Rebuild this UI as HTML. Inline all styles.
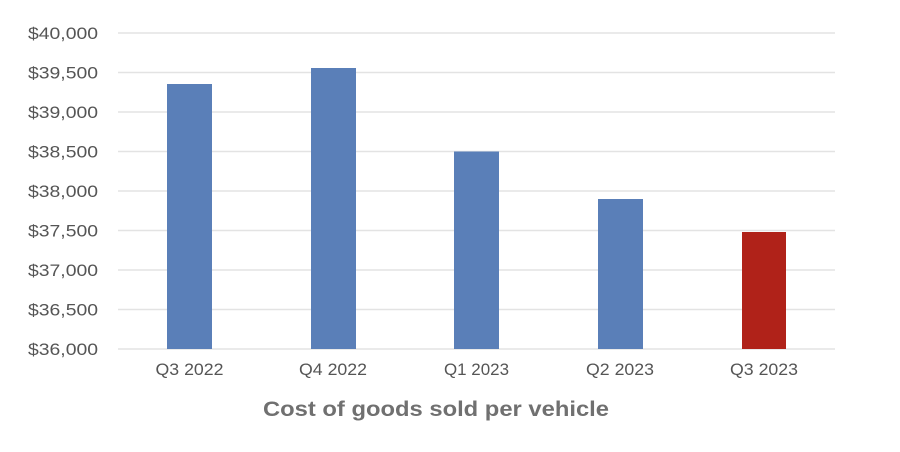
<!DOCTYPE html>
<html><head><meta charset="utf-8"><style>
html,body{margin:0;padding:0;background:#fff;}
svg{display:block;}
text{font-family:"Liberation Sans","DejaVu Sans",sans-serif;}
</style></head><body>
<svg width="900" height="452" viewBox="0 0 900 452" xmlns="http://www.w3.org/2000/svg">
<rect width="900" height="452" fill="#fff"/>
<g stroke="#e3e3e3" stroke-width="1.5">
<line x1="118" x2="835" y1="33" y2="33"/>
<line x1="118" x2="835" y1="72.5" y2="72.5"/>
<line x1="118" x2="835" y1="112" y2="112"/>
<line x1="118" x2="835" y1="151.5" y2="151.5"/>
<line x1="118" x2="835" y1="191" y2="191"/>
<line x1="118" x2="835" y1="230.5" y2="230.5"/>
<line x1="118" x2="835" y1="270" y2="270"/>
<line x1="118" x2="835" y1="309.5" y2="309.5"/>
<line x1="118" x2="835" y1="349" y2="349"/>
</g>
<g fill="#5a7fb8">
<rect x="167" y="84" width="45" height="265"/>
<rect x="311" y="68" width="45" height="281"/>
<rect x="454" y="151.5" width="45" height="197.5"/>
<rect x="598" y="199" width="45" height="150"/>
</g>
<rect x="742" y="232" width="44" height="117" fill="#b02219"/>
<g fill="#555" font-size="17" text-anchor="end">
<text x="98" y="39" textLength="70" lengthAdjust="spacingAndGlyphs">$40,000</text>
<text x="98" y="78.5" textLength="70" lengthAdjust="spacingAndGlyphs">$39,500</text>
<text x="98" y="118" textLength="70" lengthAdjust="spacingAndGlyphs">$39,000</text>
<text x="98" y="157.5" textLength="70" lengthAdjust="spacingAndGlyphs">$38,500</text>
<text x="98" y="197" textLength="70" lengthAdjust="spacingAndGlyphs">$38,000</text>
<text x="98" y="236.5" textLength="70" lengthAdjust="spacingAndGlyphs">$37,500</text>
<text x="98" y="276" textLength="70" lengthAdjust="spacingAndGlyphs">$37,000</text>
<text x="98" y="315.5" textLength="70" lengthAdjust="spacingAndGlyphs">$36,500</text>
<text x="98" y="355" textLength="70" lengthAdjust="spacingAndGlyphs">$36,000</text>
</g>
<g fill="#555" font-size="17" text-anchor="middle">
<text x="189.5" y="375" textLength="68" lengthAdjust="spacingAndGlyphs">Q3 2022</text>
<text x="333" y="375" textLength="68" lengthAdjust="spacingAndGlyphs">Q4 2022</text>
<text x="476.5" y="375" textLength="65" lengthAdjust="spacingAndGlyphs">Q1 2023</text>
<text x="620" y="375" textLength="68" lengthAdjust="spacingAndGlyphs">Q2 2023</text>
<text x="764" y="375" textLength="68" lengthAdjust="spacingAndGlyphs">Q3 2023</text>
</g>
<text x="263" y="416" fill="#707070" font-size="21" font-weight="600" textLength="346" lengthAdjust="spacingAndGlyphs">Cost of goods sold per vehicle</text>
</svg>
</body></html>
